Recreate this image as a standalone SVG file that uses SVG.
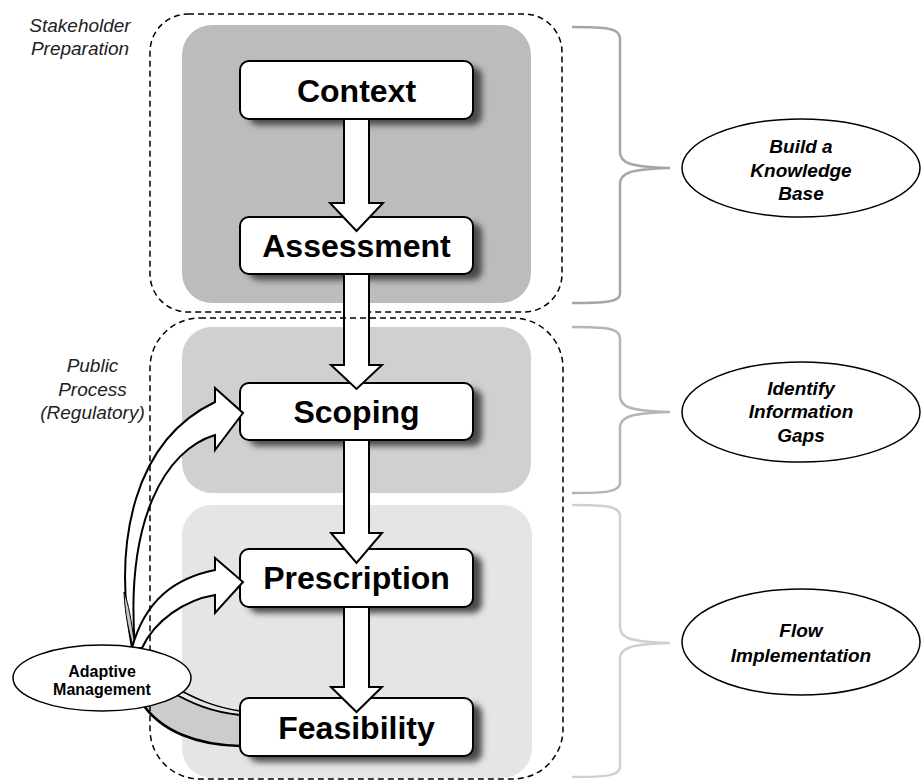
<svg xmlns="http://www.w3.org/2000/svg" width="923" height="784" viewBox="0 0 923 784">
<defs>
<filter id="sh" x="-10%" y="-20%" width="130%" height="160%"><feGaussianBlur stdDeviation="3"/></filter>
<style>
.dash{fill:none;stroke:#000;stroke-width:1.5;stroke-dasharray:6 4}
.box{fill:#fff;stroke:#000;stroke-width:2}
.shd{fill:#4a4a4a;filter:url(#sh)}
.arr{fill:#fff;stroke:#000;stroke-width:2;stroke-linejoin:miter}
.brace{fill:none;stroke-width:2.5}
.ell{fill:#fff;stroke:#000;stroke-width:1.5}
.node{font-family:"Liberation Sans",Arial,sans-serif;font-weight:bold;font-size:32px;text-anchor:middle;fill:#000}
.side{font-family:"Liberation Sans",Arial,sans-serif;font-style:italic;font-size:19px;text-anchor:middle;fill:#222}
.goal{font-family:"Liberation Sans",Arial,sans-serif;font-style:italic;font-weight:bold;font-size:19px;text-anchor:middle;fill:#000}
.am{font-family:"Liberation Sans",Arial,sans-serif;font-weight:bold;font-size:16px;text-anchor:middle;fill:#000}
</style>
</defs>
<rect width="923" height="784" fill="#fff"/>

<g id="panels">
<rect x="182" y="25" width="349" height="278" rx="30" fill="#bcbcbc"/>
<rect x="182" y="327" width="349" height="166" rx="30" fill="#d0d0d0"/>
<rect x="182" y="505" width="350" height="273" rx="30" fill="#e5e5e5"/>
</g>

<g id="stakeholder-group">
<rect class="dash" x="150" y="14" width="412" height="298" rx="38"/>
<text class="side" x="80" y="32">Stakeholder</text>
<text class="side" x="80" y="55">Preparation</text>
</g>

<g id="braces">
<path class="brace" stroke="#a6a6a6" d="M572,27 C605,27 620,28 620,38 L620,152 C620,163 630,167 670,168 C630,169 620,173 620,184 L620,294 C620,302 605,303 572,303"/>
<path class="brace" stroke="#b5b5b5" d="M572,327 C605,327 620,328 620,338 L620,396 C620,407 630,411 670,412 C630,413 620,417 620,428 L620,483 C620,492 605,493 572,493"/>
<path class="brace" stroke="#d0d0d0" d="M572,505 C605,505 620,506 620,516 L620,627 C620,638 630,642 670,643 C630,644 620,648 620,659 L620,767 C620,776 605,777 572,777"/>
</g>

<g id="goal-knowledge">
<ellipse class="ell" cx="801" cy="168" rx="119" ry="49"/>
<text class="goal" x="801" y="153">Build a</text>
<text class="goal" x="801" y="177">Knowledge</text>
<text class="goal" x="801" y="200">Base</text>
</g>
<g id="goal-gaps">
<ellipse class="ell" cx="801" cy="412" rx="119" ry="50"/>
<text class="goal" x="801" y="395">Identify</text>
<text class="goal" x="801" y="418">Information</text>
<text class="goal" x="801" y="442">Gaps</text>
</g>
<g id="goal-flow">
<ellipse class="ell" cx="801" cy="642" rx="119" ry="53"/>
<text class="goal" x="801" y="637">Flow</text>
<text class="goal" x="801" y="662">Implementation</text>
</g>

<g id="feedback-band">
<path d="M240,715 C212,712 192,704 168,690 L140,700 C160,733 200,745 240,746 Z" fill="#cccccc" stroke="none"/>
<path d="M240,715 C212,712 192,704 168,690" fill="none" stroke="#000" stroke-width="2"/>
<path d="M240,711 C214,707 196,699 176,688" fill="none" stroke="#000" stroke-width="1.5"/>
<path d="M140,700 C160,733 200,745 240,746" fill="none" stroke="#000" stroke-width="2.5"/>
</g>

<g id="context">
<rect class="shd" x="249" y="67" width="233" height="58" rx="9"/>
<rect class="box" x="240" y="61" width="233" height="58" rx="9"/>
<text class="node" x="356.5" y="102">Context</text>
</g>
<g id="assessment">
<rect class="shd" x="249" y="223" width="233" height="57" rx="9"/>
<rect class="box" x="240" y="217" width="233" height="57" rx="9"/>
<text class="node" x="356.5" y="257">Assessment</text>
</g>
<g id="scoping">
<rect class="shd" x="249" y="389" width="233" height="57" rx="9"/>
<rect class="box" x="240" y="383" width="233" height="57" rx="9"/>
<text class="node" x="356.5" y="423">Scoping</text>
</g>
<g id="prescription">
<rect class="shd" x="249" y="555" width="233" height="58" rx="9"/>
<rect class="box" x="240" y="549" width="233" height="58" rx="9"/>
<text class="node" x="356.5" y="589">Prescription</text>
</g>
<g id="feasibility">
<rect class="shd" x="249" y="704" width="233" height="58" rx="9"/>
<rect class="box" x="240" y="698" width="233" height="58" rx="9"/>
<text class="node" x="356.5" y="739">Feasibility</text>
</g>

<g id="connectors">
<path class="arr" d="M344,119 L344,203 L330,203 L356.5,231 L383,203 L369,203 L369,119 Z"/>
<path class="arr" d="M344,274 L344,365 L331,365 L356.5,389 L382,365 L369,365 L369,274 Z"/>
<path class="arr" d="M344,440 L344,533 L331,533 L356.5,563 L382,533 L369,533 L369,440 Z"/>
<path class="arr" d="M344,607 L344,687 L331,687 L356.5,712 L382,687 L369,687 L369,607 Z"/>
<path class="arr" d="M132,648 C112,540 135,440 215,402 L215,388 L243,413 L215,450 L215,435 C165,450 125,520 135,648 Z"/>
<path d="M124,592 C125,615 129,632 133,646 L134,640 C131,620 129,605 124,592 Z" fill="#c8c8c8" stroke="#000" stroke-width="1"/>
<path class="arr" d="M132,648 C145,600 175,578 215,570 L215,558 L243,582 L215,613 L215,595 C185,600 155,620 142,648 Z"/>
</g>

<g id="public-group">
<rect class="dash" x="150" y="318" width="413" height="461" rx="50"/>
<text class="side" x="92.5" y="372">Public</text>
<text class="side" x="92.5" y="396">Process</text>
<text class="side" x="92.5" y="419">(Regulatory)</text>
</g>

<g id="adaptive-management">
<ellipse class="ell" cx="102" cy="678" rx="89" ry="33"/>
<text class="am" x="102" y="677">Adaptive</text>
<text class="am" x="102" y="695">Management</text>
</g>
</svg>
